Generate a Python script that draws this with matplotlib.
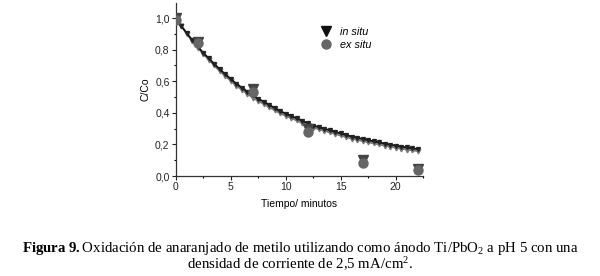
import matplotlib
matplotlib.use("Agg")
import matplotlib.pyplot as plt
from matplotlib.ticker import MultipleLocator, FuncFormatter
from matplotlib.lines import Line2D

plt.rcParams['font.family'] = ['Liberation Sans', 'DejaVu Sans']
plt.rcParams['mathtext.fontset'] = 'custom'
plt.rcParams['mathtext.rm'] = 'Liberation Serif'
plt.rcParams['mathtext.bf'] = 'Liberation Serif:bold'
plt.rcParams['mathtext.it'] = 'Liberation Serif:italic'

# measured points
t_pts = [0, 2, 7, 12, 17, 22]
in_situ = [1.00, 0.85, 0.55, 0.30, 0.10, 0.045]
ex_situ = [0.99, 0.84, 0.53, 0.28, 0.085, 0.04]

# fitted curves (every 0.5 min)
t_fit = [0, 0.5, 1, 1.5, 2, 2.5, 3, 3.5, 4, 4.5, 5, 5.5, 6, 6.5, 7, 7.5, 8, 8.5,
         9, 9.5, 10, 10.5, 11, 11.5, 12, 12.5, 13, 13.5, 14, 14.5, 15, 15.5, 16,
         16.5, 17, 17.5, 18, 18.5, 19, 19.5, 20, 20.5, 21, 21.5, 22]
fit_in = [1.00, 0.95, 0.905, 0.86, 0.82, 0.78, 0.745, 0.71, 0.675, 0.645, 0.615,
          0.585, 0.56, 0.535, 0.51, 0.49, 0.47, 0.45, 0.43, 0.41, 0.395, 0.38,
          0.365, 0.35, 0.335, 0.32, 0.31, 0.30, 0.29, 0.28, 0.27, 0.26, 0.25,
          0.243, 0.235, 0.228, 0.22, 0.213, 0.206, 0.199, 0.193, 0.187, 0.181,
          0.176, 0.171]
fit_ex = [1.00, 0.948, 0.90, 0.855, 0.813, 0.773, 0.736, 0.70, 0.665, 0.634,
          0.603, 0.573, 0.547, 0.522, 0.497, 0.476, 0.456, 0.436, 0.416, 0.397,
          0.382, 0.367, 0.352, 0.337, 0.322, 0.307, 0.297, 0.287, 0.277, 0.267,
          0.257, 0.247, 0.237, 0.23, 0.222, 0.215, 0.207, 0.2, 0.193, 0.186,
          0.18, 0.174, 0.168, 0.163, 0.158]

fig = plt.figure(figsize=(6.0, 2.76), dpi=100)
ax = fig.add_axes([0.293, 0.362, 0.412, 0.627])

ax.plot(t_fit, fit_ex, ls='-', color='#777777', lw=1.3, marker='v', ms=3.4,
        mfc='#777777', mec='#777777', zorder=2)
ax.plot(t_fit, fit_in, ls='-', color='#111111', lw=1.3, marker='v', ms=2.8,
        mfc='#222222', mec='#222222', zorder=3)
ax.plot(t_pts, in_situ, ls='none', marker='v', ms=7, color='#444444', zorder=4)
ax.plot(t_pts, ex_situ, ls='none', marker='o', ms=6.5, color='#666666', zorder=5)

ax.set_xlim(0, 22.5)
ax.set_ylim(0, 1.095)
for s in ['top', 'right']:
    ax.spines[s].set_visible(False)
for s in ['left', 'bottom']:
    ax.spines[s].set_color('#333333')
    ax.spines[s].set_linewidth(0.9)
ax.xaxis.set_major_locator(MultipleLocator(5))
ax.xaxis.set_minor_locator(MultipleLocator(2.5))
ax.yaxis.set_major_locator(MultipleLocator(0.2))
ax.yaxis.set_minor_locator(MultipleLocator(0.1))
ax.yaxis.set_major_formatter(FuncFormatter(lambda v, p: f"{v:.1f}".replace('.', ',')))
ax.tick_params(which='major', direction='out', length=3, width=0.8,
               labelsize=7.5, pad=1.5, colors='#222222')
ax.tick_params(which='minor', direction='out', length=1.5, width=0.8)

ax.set_xlabel('Tiempo/ minutos', fontsize=7.5, labelpad=5)
ax.set_ylabel('C/Co', fontsize=7.5, labelpad=3)

handles = [Line2D([], [], ls='none', marker='v', ms=7, color='#111111'),
           Line2D([], [], ls='none', marker='o', ms=6.5, color='#666666')]
leg = ax.legend(handles, ['in situ', 'ex situ'], loc='upper left',
                bbox_to_anchor=(0.54, 0.92), frameon=False, fontsize=7.8,
                handletextpad=0.7, labelspacing=0.3, handlelength=1.2)
for txt in leg.get_texts():
    txt.set_fontstyle('italic')

fig.text(0.5, 0.100, r'$\mathbf{Figura\ 9.}$Oxidación de anaranjado de metilo utilizando como ánodo Ti/PbO$_2$ a pH 5 con una',
         ha='center', va='center', fontsize=10.7, family='Liberation Serif')
fig.text(0.5, 0.042, r'densidad de corriente de 2,5 mA/cm$^2$.',
         ha='center', va='center', fontsize=10.7, family='Liberation Serif')

fig.savefig('out.png', dpi=100)
